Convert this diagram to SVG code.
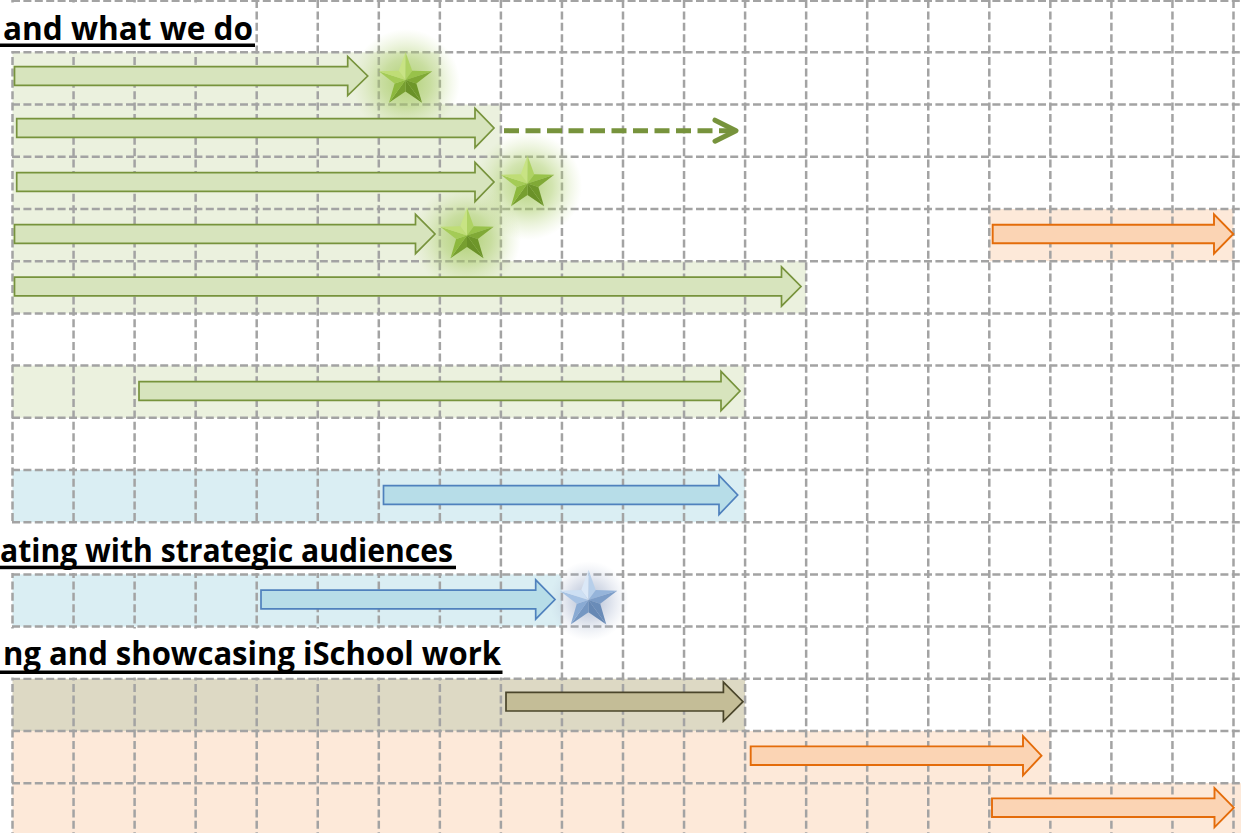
<svg xmlns="http://www.w3.org/2000/svg" width="1241" height="833" viewBox="0 0 1241 833">
<style>
.grid{fill:none;stroke:#a3a3a3;stroke-width:2.5;stroke-dasharray:8 3.4}
.bandG{fill:#ebf1de}.bandB{fill:#daeef3}.bandT{fill:#ddd9c4}.bandO{fill:#fde9d9}
.arrG{fill:#d7e4bd;stroke:#77933c;stroke-width:1.7}
.arrB{fill:#b7dde8;stroke:#4f81bd;stroke-width:1.7}
.arrT{fill:#c4bd97;stroke:#4a452a;stroke-width:1.7}
.arrO{fill:#fbd4b4;stroke:#e46c0a;stroke-width:1.9}
.head{font-family:"Open Sans","Liberation Sans",sans-serif;font-weight:bold;font-size:33px;fill:#000}
.dash{fill:none;stroke:#77933c;stroke-width:5;stroke-dasharray:15 6.5}
</style>
<defs>
<radialGradient id="glowG">
<stop offset="0" stop-color="#9cc452" stop-opacity="0.75"/>
<stop offset="0.45" stop-color="#a6ca62" stop-opacity="0.5"/>
<stop offset="1" stop-color="#c2db8e" stop-opacity="0"/>
</radialGradient>
<radialGradient id="glowB">
<stop offset="0" stop-color="#7d90b4" stop-opacity="0.65"/>
<stop offset="0.5" stop-color="#95a5c4" stop-opacity="0.35"/>
<stop offset="1" stop-color="#b8c3d9" stop-opacity="0"/>
</radialGradient>
<g id="starG">
<polygon points="0,0 0,-27 -6.47,-8.9" fill="#c8e384"/>
<polygon points="0,0 0,-27 6.47,-8.9" fill="#aed263"/>
<polygon points="0,0 25.68,-8.34 6.47,-8.9" fill="#98c24a"/>
<polygon points="0,0 25.68,-8.34 10.46,3.4" fill="#80a936"/>
<polygon points="0,0 15.87,21.84 10.46,3.4" fill="#6e962a"/>
<polygon points="0,0 15.87,21.84 0,11" fill="#6a9128"/>
<polygon points="0,0 -15.87,21.84 0,11" fill="#779f30"/>
<polygon points="0,0 -15.87,21.84 -10.46,3.4" fill="#8db83e"/>
<polygon points="0,0 -25.68,-8.34 -10.46,3.4" fill="#a4cb56"/>
<polygon points="0,0 -25.68,-8.34 -6.47,-8.9" fill="#bfdd76"/>
</g>
<g id="starB">
<polygon points="0,0 0,-27 -6.47,-8.9" fill="#dbe8f7"/>
<polygon points="0,0 0,-27 6.47,-8.9" fill="#b7cfea"/>
<polygon points="0,0 25.68,-8.34 6.47,-8.9" fill="#95b4da"/>
<polygon points="0,0 25.68,-8.34 10.46,3.4" fill="#7c9dc8"/>
<polygon points="0,0 15.87,21.84 10.46,3.4" fill="#6a8cb8"/>
<polygon points="0,0 15.87,21.84 0,11" fill="#6688b4"/>
<polygon points="0,0 -15.87,21.84 0,11" fill="#7597c2"/>
<polygon points="0,0 -15.87,21.84 -10.46,3.4" fill="#89aad3"/>
<polygon points="0,0 -25.68,-8.34 -10.46,3.4" fill="#a6c2e4"/>
<polygon points="0,0 -25.68,-8.34 -6.47,-8.9" fill="#cddff3"/>
</g>
<marker id="chev" markerUnits="userSpaceOnUse" markerWidth="30" markerHeight="30" refX="24" refY="15" orient="auto" overflow="visible">
<path d="M3,4.5 L24,15 L3,25.5" fill="none" stroke="#77933c" stroke-width="5" stroke-linecap="round" stroke-linejoin="round"/>
</marker>
</defs>
<rect width="1241" height="833" fill="#fff"/>
<g id="bands">
<rect class="bandG" x="12.5" y="52.3" width="427.3" height="52.2"/>
<rect class="bandG" x="12.5" y="104.5" width="488.4" height="52.3"/>
<rect class="bandG" x="12.5" y="156.8" width="488.4" height="52.2"/>
<rect class="bandG" x="12.5" y="209" width="488.4" height="52.2"/>
<rect class="bandO" x="989.3" y="209" width="244.2" height="52.2"/>
<rect class="bandG" x="12.5" y="261.2" width="793.6" height="52.2"/>
<rect class="bandG" x="12.5" y="365.6" width="732.6" height="52.2"/>
<rect class="bandB" x="12.5" y="470" width="732.6" height="52.2"/>
<rect class="bandB" x="12.5" y="574.4" width="549.4" height="52.2"/>
<rect class="bandT" x="12.5" y="678.8" width="732.6" height="52.2"/>
<rect class="bandO" x="12.5" y="731" width="1037.8" height="52.2"/>
<rect class="bandO" x="12.5" y="783.2" width="1228.5" height="49.8"/>
</g>
<g id="grid">
<path class="grid" d="M12,0.8H1241M12,52.3H1241M12,104.5H1241M12,156.8H1241M12,209H1241M12,261.2H1241M12,313.4H1241M12,365.6H1241M12,417.8H1241M12,470H1241M12,522.2H1241M12,574.4H1241M12,626.6H1241M12,678.8H1241M12,731H1241M12,783.2H1241"/>
<path class="grid" d="M12.5,0V833M73.55,0V833M134.6,0V833M195.65,0V833M256.7,0V833M317.75,0V833M378.8,0V833M439.85,0V833M500.9,0V833M561.95,0V833M623,0V833M684.05,0V833M745.1,0V833M806.15,0V833M867.2,0V833M928.25,0V833M989.3,0V833M1050.35,0V833M1111.4,0V833M1172.45,0V833M1233.5,0V833"/>
</g>
<g id="heading1">
<rect x="0" y="2.5" width="255" height="48.5" fill="#fff"/>
<text class="head" x="3" y="40" textLength="250" lengthAdjust="spacingAndGlyphs">and what we do</text>
<rect x="0" y="43.5" width="255" height="3.5" fill="#000"/>
</g>
<g id="heading2">
<rect x="0" y="524" width="458" height="49" fill="#fff"/>
<text class="head" x="0" y="561.5" textLength="453" lengthAdjust="spacingAndGlyphs">ating with strategic audiences</text>
<rect x="0" y="565.7" width="456" height="3.5" fill="#000"/>
</g>
<g id="heading3">
<rect x="0" y="628.5" width="504" height="49" fill="#fff"/>
<text class="head" x="3" y="665" textLength="498" lengthAdjust="spacingAndGlyphs">ng and showcasing iSchool work</text>
<rect x="0" y="670.5" width="502.5" height="3.5" fill="#000"/>
</g>
<g id="glows">
<circle cx="406" cy="83" r="54" fill="url(#glowG)"/>
<circle cx="528" cy="186" r="54" fill="url(#glowG)"/>
<circle cx="467" cy="238" r="54" fill="url(#glowG)"/>
<circle cx="589" cy="601" r="40" fill="url(#glowB)"/>
</g>
<g id="bar1"><path class="arrG" d="M14.5,66.7H347.7V56.4L367.7,76L347.7,95.6V85.3H14.5Z"/></g>
<g id="bar2"><path class="arrG" d="M16.7,118.7H475V108.4L494,128L475,147.6V137.3H16.7Z"/></g>
<g id="bar3"><path class="arrG" d="M16.7,172.7H475V162.4L494,182L475,201.6V191.3H16.7Z"/></g>
<g id="bar4"><path class="arrG" d="M14.5,224.7H415.5V214.4L435,234L415.5,253.6V243.3H14.5Z"/></g>
<g id="bar4b"><path class="arrO" d="M992.7,224.7H1214V214.4L1233.3,234L1214,253.6V243.3H992.7Z"/></g>
<g id="bar5"><path class="arrG" d="M14.5,277.2H781.5V266.9L801,286.5L781.5,306.1V295.8H14.5Z"/></g>
<g id="bar7"><path class="arrG" d="M139,381.7H721V371.4L740,391L721,410.6V400.3H139Z"/></g>
<g id="bar9"><path class="arrB" d="M383.5,485.7H719V475.4L737.7,495L719,514.6V504.3H383.5Z"/></g>
<g id="bar11"><path class="arrB" d="M261,590.2H535.7V579.9L555,599.5L535.7,619.1V608.8H261Z"/></g>
<g id="bar13"><path class="arrT" d="M506,692.4H723.4V682.1L743,701.7L723.4,721.3V711H506Z"/></g>
<g id="bar14"><path class="arrO" d="M750.7,746.4H1023V736.1L1041.5,755.7L1023,775.3V765H750.7Z"/></g>
<g id="bar15"><path class="arrO" d="M992,798.4H1214.5V788.1L1233.8,807.7L1214.5,827.3V817H992Z"/></g>
<g id="connectors">
<path class="dash" d="M504,130.7H736" marker-end="url(#chev)"/>
</g>
<g id="star1"><use href="#starG" transform="translate(405.5,80) scale(1.04)"/></g>
<g id="star2"><use href="#starG" transform="translate(527.5,183.5) scale(1.04)"/></g>
<g id="star3"><use href="#starG" transform="translate(467,235.5) scale(1.04)"/></g>
<g id="star4"><use href="#starB" transform="translate(588.5,600) scale(1.12)"/></g>
</svg>
